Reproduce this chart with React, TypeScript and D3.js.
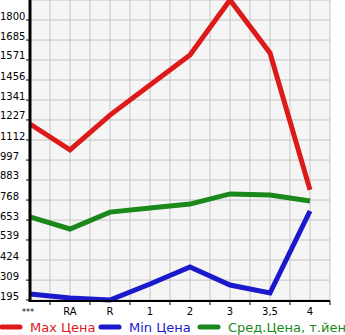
import React from "react";
import * as d3 from "d3";

const categories = ["***", "RA", "R", "1", "2", "3", "3,5", "4"];
const maxPrice = [1204, 1055, 1255, 1427, 1599, 1915, 1611, 826];
const minPrice = [229, 206, 195, 287, 384, 281, 235, 705];
const avgPrice = [672, 602, 699, 722, 745, 803, 797, 762];
const yTicks = [195, 309, 424, 539, 653, 768, 883, 997, 1112, 1227, 1341, 1456, 1571, 1685, 1800];
const seriesNames = ["Max Цена", "Min Цена", "Сред.Цена, т.йен"];
const seriesColors = ["#dd1a1a", "#1a1acc", "#1a881a"];

export default function App() {
  const W = 345, H = 335;
  const left = 30, right = 330, top = 0, bottom = 301;
  const x = d3.scalePoint<string>().domain(categories).range([left, left + 40 * (categories.length - 1)]);
  const y = d3.scaleLinear().domain([195, 1800]).range([300, 20]);
  const line = d3.line<number>().x((_, i) => x(categories[i])!).y((d) => y(d));
  const series = [maxPrice, minPrice, avgPrice];
  const vGrid = d3.range(left, right + 1, 20);
  const hGrid = [0, ...yTicks.map((t) => y(t))];
  const bandTicks = d3.range(left + 20, right + 1, 40);
  const font = "DejaVu Sans, sans-serif";
  return (
    <svg width={W} height={H} style={{ position: "absolute", left: 0, top: 0 }}>
      <rect x={left} y={top} width={right - left} height={bottom - top} fill="#f5f5f5" />
      {vGrid.map((gx) => (
        <line key={"v" + gx} x1={gx} x2={gx} y1={top} y2={bottom} stroke="#c4c4c4" strokeWidth={1} />
      ))}
      {hGrid.map((gy, i) => (
        <line key={"h" + i} x1={left} x2={right} y1={gy} y2={gy} stroke="#c4c4c4" strokeWidth={1} />
      ))}
      {series.map((s, i) => (
        <path key={i} d={line(s)!} fill="none" stroke={seriesColors[i]} strokeWidth={5} strokeLinejoin="miter" />
      ))}
      <line x1={left} x2={left} y1={top} y2={bottom + 1} stroke="#000" strokeWidth={3} />
      <line x1={left} x2={right} y1={bottom} y2={bottom} stroke="#000" strokeWidth={2} />
      {yTicks.map((t) => (
        <g key={t}>
          <line x1={left - 4} x2={left} y1={y(t)} y2={y(t)} stroke="#000" strokeWidth={1} />
          <text x={0} y={y(t) - 0.5} fontFamily={font} fontSize={10} fill="#000">{t}</text>
        </g>
      ))}
      {bandTicks.map((bx) => (
        <line key={bx} x1={bx} x2={bx} y1={bottom} y2={bottom + 4} stroke="#000" strokeWidth={1} />
      ))}
      {categories.map((c) => (
        <text key={c} x={x(c)! - (c === "***" ? 2 : 0)} y={bottom + 14} textAnchor="middle" fontFamily={font} fontSize={c === "***" ? 8 : 10} fill="#000">{c}</text>
      ))}
      {seriesNames.map((n, i) => {
        const lx = [0, 99, 198][i];
        return (
          <g key={n}>
            <line x1={lx + 2} x2={lx + 20} y1={327} y2={327} stroke={seriesColors[i]} strokeWidth={5} strokeLinecap="round" />
            <text x={lx + 30} y={332} fontFamily={font} fontSize={13} fill={seriesColors[i]}>{n}</text>
          </g>
        );
      })}
    </svg>
  );
}
